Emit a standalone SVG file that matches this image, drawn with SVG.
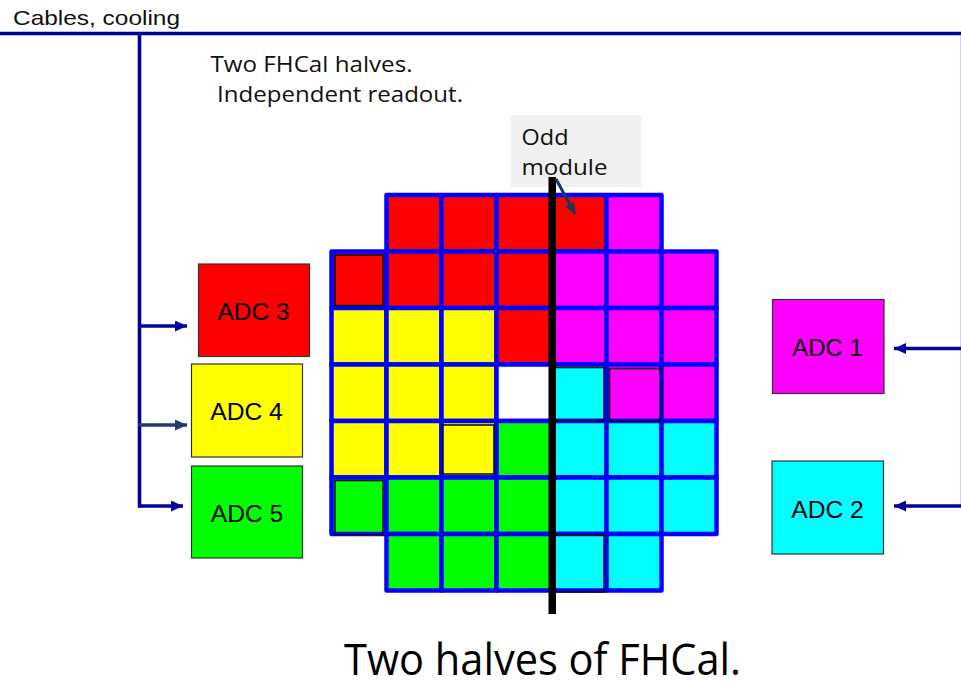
<svg xmlns="http://www.w3.org/2000/svg" width="961" height="688" viewBox="0 0 961 688">
<style>
.cell{stroke:#0000ff;stroke-width:4.5;stroke-linejoin:round}
.R{fill:#ff0000}.M{fill:#ff00ff}.Y{fill:#ffff00}.G{fill:#00ff00}.C{fill:#00ffff}.W{fill:#ffffff}
.inner{fill:none;stroke:#111;stroke-width:1.6}
.adc{stroke:#333;stroke-width:1.2}
.adct{font-family:"Liberation Sans",Arial,sans-serif;font-size:23px;fill:#000;text-anchor:middle}
.cable{stroke:#00009c;stroke-width:3.6;fill:none}
.note{font-family:"Open Sans","Noto Sans",sans-serif;fill:#111}
</style>
<defs>
<marker id="ah" markerUnits="userSpaceOnUse" markerWidth="13" markerHeight="11" refX="12" refY="5.5" orient="auto">
<path d="M0,0 L12,5.5 L0,11 z" fill="#00009c"/>
</marker>
<marker id="ahn" markerUnits="userSpaceOnUse" markerWidth="13" markerHeight="11" refX="12" refY="5.5" orient="auto">
<path d="M0,0 L12,5.5 L0,11 z" fill="#1f3a6e"/>
</marker>
<marker id="aho" markerUnits="userSpaceOnUse" markerWidth="11" markerHeight="10" refX="11" refY="5" orient="auto">
<path d="M0,0 L11,5 L0,10 z" fill="#17375e"/>
</marker>
</defs>
<rect width="961" height="688" fill="#ffffff"/>

<g id="title-cables">
<text x="13" y="25" font-family="'Liberation Sans',Arial,sans-serif" font-size="21" textLength="167" lengthAdjust="spacingAndGlyphs" fill="#111">Cables,  cooling</text>
</g>

<g id="note-halves">
<text class="note" x="210.5" y="72" font-size="21" textLength="202" lengthAdjust="spacingAndGlyphs">Two FHCal halves.</text>
<text class="note" x="217" y="102" font-size="21" textLength="246" lengthAdjust="spacingAndGlyphs">Independent readout.</text>
</g>

<g id="connectors">
<line class="cable" x1="0" y1="33.5" x2="961" y2="33.5"/>
<line class="cable" x1="139.5" y1="32" x2="139.5" y2="507.5"/>
<line class="cable" x1="138" y1="326" x2="187" y2="326" marker-end="url(#ah)"/>
<line x1="138" y1="425" x2="187" y2="425" stroke="#1f3a6e" stroke-width="3.6" marker-end="url(#ahn)"/>
<line class="cable" x1="138" y1="506" x2="183" y2="506" marker-end="url(#ah)"/>
<line x1="960.5" y1="35" x2="960.5" y2="507" stroke="#cfcff2" stroke-width="1"/>
<line class="cable" x1="961" y1="348.5" x2="894" y2="348.5" marker-end="url(#ah)"/>
<line class="cable" x1="961" y1="506" x2="894" y2="506" marker-end="url(#ah)"/>
</g>

<g id="adc3"><rect class="adc R" x="198.5" y="264" width="111" height="92.5"/><text class="adct" x="253.5" y="320" textLength="72" lengthAdjust="spacingAndGlyphs">ADC 3</text></g>
<g id="adc4"><rect class="adc Y" x="191.5" y="364" width="111" height="93"/><text class="adct" x="246.5" y="420" textLength="72.5" lengthAdjust="spacingAndGlyphs">ADC 4</text></g>
<g id="adc5"><rect class="adc G" x="191.5" y="466" width="111" height="92"/><text class="adct" x="247" y="521.5" textLength="72.5" lengthAdjust="spacingAndGlyphs">ADC 5</text></g>
<g id="adc1"><rect class="adc M" x="772.5" y="299.5" width="111.5" height="94"/><text class="adct" x="827.5" y="356" textLength="70.5" lengthAdjust="spacingAndGlyphs">ADC 1</text></g>
<g id="adc2"><rect class="adc C" x="772" y="461" width="111.5" height="93"/><text class="adct" x="827.5" y="517.5" textLength="72.5" lengthAdjust="spacingAndGlyphs">ADC 2</text></g>

<g id="odd-module-label">
<rect x="511" y="115" width="130" height="72" fill="#f0f0f0"/>
<text class="note" x="521.5" y="145" font-size="21" textLength="47" lengthAdjust="spacingAndGlyphs">Odd</text>
<text class="note" x="521.5" y="175" font-size="21" textLength="86" lengthAdjust="spacingAndGlyphs">module</text>
</g>

<g id="fhcal-modules">
<!-- row 0 -->
<rect class="cell R" x="386.5" y="195" width="55" height="56.5"/>
<rect class="cell R" x="441.5" y="195" width="55" height="56.5"/>
<rect class="cell R" x="496.5" y="195" width="55" height="56.5"/>
<rect class="cell R" x="551.5" y="195" width="55" height="56.5"/>
<rect class="cell M" x="606.5" y="195" width="55" height="56.5"/>
<!-- row 1 -->
<rect class="cell R" x="331.5" y="251.5" width="55" height="56.5"/>
<rect class="cell R" x="386.5" y="251.5" width="55" height="56.5"/>
<rect class="cell R" x="441.5" y="251.5" width="55" height="56.5"/>
<rect class="cell R" x="496.5" y="251.5" width="55" height="56.5"/>
<rect class="cell M" x="551.5" y="251.5" width="55" height="56.5"/>
<rect class="cell M" x="606.5" y="251.5" width="55" height="56.5"/>
<rect class="cell M" x="661.5" y="251.5" width="55" height="56.5"/>
<!-- row 2 -->
<rect class="cell Y" x="331.5" y="308" width="55" height="56.5"/>
<rect class="cell Y" x="386.5" y="308" width="55" height="56.5"/>
<rect class="cell Y" x="441.5" y="308" width="55" height="56.5"/>
<rect class="cell R" x="496.5" y="308" width="55" height="56.5"/>
<rect class="cell M" x="551.5" y="308" width="55" height="56.5"/>
<rect class="cell M" x="606.5" y="308" width="55" height="56.5"/>
<rect class="cell M" x="661.5" y="308" width="55" height="56.5"/>
<!-- row 3 -->
<rect class="cell Y" x="331.5" y="364.5" width="55" height="56.5"/>
<rect class="cell Y" x="386.5" y="364.5" width="55" height="56.5"/>
<rect class="cell Y" x="441.5" y="364.5" width="55" height="56.5"/>
<rect class="cell W" x="496.5" y="364.5" width="55" height="56.5"/>
<rect class="cell C" x="551.5" y="364.5" width="55" height="56.5"/>
<rect class="cell M" x="606.5" y="364.5" width="55" height="56.5"/>
<rect class="cell M" x="661.5" y="364.5" width="55" height="56.5"/>
<!-- row 4 -->
<rect class="cell Y" x="331.5" y="421" width="55" height="56.5"/>
<rect class="cell Y" x="386.5" y="421" width="55" height="56.5"/>
<rect class="cell Y" x="441.5" y="421" width="55" height="56.5"/>
<rect class="cell G" x="496.5" y="421" width="55" height="56.5"/>
<rect class="cell C" x="551.5" y="421" width="55" height="56.5"/>
<rect class="cell C" x="606.5" y="421" width="55" height="56.5"/>
<rect class="cell C" x="661.5" y="421" width="55" height="56.5"/>
<!-- row 5 -->
<rect class="cell G" x="331.5" y="477.5" width="55" height="56.5"/>
<rect class="cell G" x="386.5" y="477.5" width="55" height="56.5"/>
<rect class="cell G" x="441.5" y="477.5" width="55" height="56.5"/>
<rect class="cell G" x="496.5" y="477.5" width="55" height="56.5"/>
<rect class="cell C" x="551.5" y="477.5" width="55" height="56.5"/>
<rect class="cell C" x="606.5" y="477.5" width="55" height="56.5"/>
<rect class="cell C" x="661.5" y="477.5" width="55" height="56.5"/>
<!-- row 6 -->
<rect class="cell G" x="386.5" y="534" width="55" height="56.5"/>
<rect class="cell G" x="441.5" y="534" width="55" height="56.5"/>
<rect class="cell G" x="496.5" y="534" width="55" height="56.5"/>
<rect class="cell C" x="551.5" y="534" width="55" height="56.5"/>
<rect class="cell C" x="606.5" y="534" width="55" height="56.5"/>
<!-- marked modules -->
<rect class="inner" x="335" y="255" width="48" height="50.5"/>
<rect class="inner" x="555" y="367.5" width="49" height="53"/>
<rect class="inner" x="609.5" y="368.5" width="51" height="52"/>
<rect class="inner" x="442.5" y="425" width="51.5" height="49"/>
<rect class="inner" x="335" y="480.5" width="48" height="54"/>
<rect class="inner" x="555" y="535" width="49" height="57"/>
</g>

<g id="split-line">
<rect x="548.5" y="177" width="7.5" height="437" fill="#000"/>
</g>

<g id="odd-module-pointer">
<line x1="556" y1="179" x2="575" y2="214" stroke="#17375e" stroke-width="3" marker-end="url(#aho)"/>
</g>

<g id="caption">
<text x="344" y="675" font-family="'Open Sans','Noto Sans',sans-serif" font-size="44" textLength="397" lengthAdjust="spacingAndGlyphs" fill="#000">Two halves of FHCal.</text>
</g>
</svg>
